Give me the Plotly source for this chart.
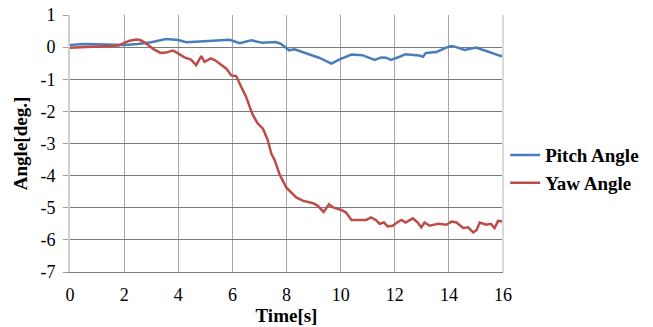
import plotly.graph_objects as go

# Pitch angle (blue)
pitch_t = [0, 0.5, 1.0, 1.5, 2.0, 2.5, 3.0, 3.55, 4.0, 4.3, 4.8, 5.2, 5.5, 5.9, 6.27, 6.7,
           7.1, 7.6, 7.8, 8.0, 8.1, 8.3, 8.6, 8.85, 9.2, 9.66, 9.96, 10.4, 10.8, 11.26, 11.5,
           11.68, 11.86, 12.18, 12.4, 12.9, 13.04, 13.15, 13.54, 14.03, 14.15, 14.58, 15.0,
           15.38, 15.93, 16.0]
pitch_v = [0.07, 0.1, 0.09, 0.08, 0.07, 0.1, 0.15, 0.25, 0.22, 0.15, 0.17, 0.2, 0.2, 0.23,
           0.12, 0.21, 0.14, 0.16, 0.1, -0.04, -0.1, -0.07, -0.15, -0.22, -0.33, -0.51, -0.38,
           -0.23, -0.25, -0.4, -0.32, -0.33, -0.4, -0.3, -0.22, -0.26, -0.3, -0.18, -0.15,
           0.03, 0.03, -0.09, -0.01, -0.12, -0.28, -0.25]

# Yaw angle (red)
yaw_t = [0, 0.5, 1.0, 1.5, 1.8, 2.0, 2.2, 2.45, 2.6, 2.8, 3.1, 3.35, 3.54, 3.8, 3.9, 4.23,
         4.47, 4.66, 4.85, 4.97, 5.2, 5.35, 5.53, 5.78, 5.96, 6.14, 6.33, 6.51, 6.64, 6.76,
         6.94, 7.13, 7.31, 7.44, 7.56, 7.74, 7.99, 8.36, 8.6, 8.98, 9.16, 9.37, 9.57, 9.72,
         10.03, 10.2, 10.4, 10.7, 10.95, 11.12, 11.3, 11.44, 11.6, 11.74, 11.92, 12.1, 12.25,
         12.4, 12.67, 12.85, 12.98, 13.1, 13.29, 13.6, 13.9, 14.1, 14.28, 14.53, 14.71, 14.9,
         15.02, 15.14, 15.38, 15.55, 15.69, 15.82, 16.0]
yaw_v = [-0.02, 0.0, 0.01, 0.02, 0.05, 0.13, 0.2, 0.24, 0.22, 0.12, -0.07, -0.18, -0.17,
         -0.11, -0.15, -0.32, -0.39, -0.56, -0.28, -0.46, -0.35, -0.4, -0.51, -0.67, -0.88,
         -0.9, -1.24, -1.55, -1.86, -2.12, -2.38, -2.54, -2.9, -3.32, -3.51, -3.95, -4.37,
         -4.68, -4.78, -4.86, -4.94, -5.13, -4.89, -4.99, -5.07, -5.15, -5.38, -5.38, -5.38,
         -5.3, -5.38, -5.5, -5.46, -5.58, -5.56, -5.45, -5.38, -5.46, -5.33, -5.46, -5.61,
         -5.46, -5.56, -5.5, -5.53, -5.43, -5.46, -5.63, -5.61, -5.77, -5.7, -5.46, -5.53,
         -5.5, -5.63, -5.41, -5.43]

x_ticks = [0, 2, 4, 6, 8, 10, 12, 14, 16]
y_ticks = [1, 0, -1, -2, -3, -4, -5, -6, -7]

serif = "Times New Roman, Liberation Serif, DejaVu Serif, serif"

fig = go.Figure()
fig.add_trace(go.Scatter(x=pitch_t, y=pitch_v, mode="lines", name="<b>Pitch Angle</b>",
                         line=dict(color="#4a7ebb", width=2.5)))
fig.add_trace(go.Scatter(x=yaw_t, y=yaw_v, mode="lines", name="<b>Yaw Angle</b>",
                         line=dict(color="#be4b48", width=2.5)))

fig.update_layout(
    width=653, height=327,
    margin=dict(l=70, r=150, t=15, b=55, autoexpand=False),
    paper_bgcolor="white", plot_bgcolor="white",
    font=dict(family=serif, color="black", size=16),
    legend=dict(x=1.005, xanchor="left", y=0.40, yanchor="middle",
                font=dict(family=serif, size=19, color="black"),
                tracegroupgap=0, itemwidth=30, bgcolor="rgba(0,0,0,0)"),
    showlegend=True,
)
fig.update_xaxes(
    range=[0, 16], tickvals=x_ticks, ticktext=[str(v) for v in x_ticks],
    showgrid=True, gridcolor="#a6a6a6", gridwidth=1, automargin=False,
    showline=True, linecolor="#7f7f7f", linewidth=1, mirror=False,
    ticks="", ticklabelstandoff=6, zeroline=False,
    tickfont=dict(family=serif, size=18),
    title=dict(text="<b>Time[s]</b>", font=dict(family=serif, size=19), standoff=0),
)
fig.update_yaxes(
    range=[-7, 1], tickvals=y_ticks, ticktext=[str(v) for v in y_ticks],
    showgrid=True, gridcolor="#7a7a7a", gridwidth=1, automargin=False,
    showline=True, linecolor="#d0d0d0", linewidth=2,
    ticks="outside", ticklen=5, tickcolor="#a0a0a0", zeroline=False,
    ticklabelstandoff=4,
    tickfont=dict(family=serif, size=18),
    title=dict(text="<b>Angle[deg.]</b>", font=dict(family=serif, size=19), standoff=8),
)
# right border of plot area
fig.add_shape(type="line", xref="paper", yref="paper", x0=1, x1=1, y0=0, y1=1,
              line=dict(color="#d9d9d9", width=2))

fig.write_html("out.html", config={"displayModeBar": False},
               post_script="document.body.style.margin='0';document.body.style.padding='0';")
